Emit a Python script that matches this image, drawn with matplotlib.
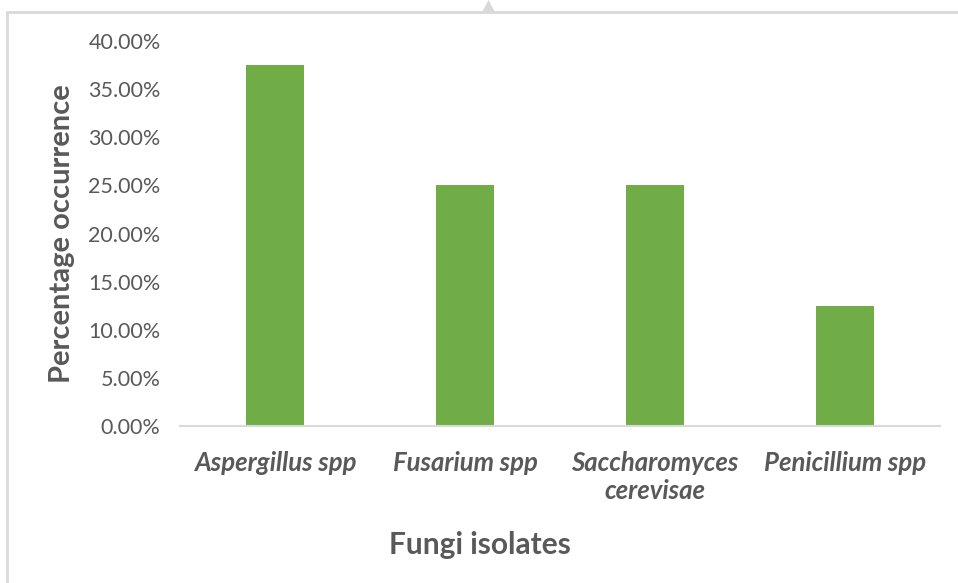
import matplotlib.pyplot as plt
from matplotlib.patches import Rectangle, Polygon
from matplotlib.ticker import FuncFormatter

fungi = ['Aspergillus spp', 'Fusarium spp', 'Saccharomyces\ncerevisae', 'Penicillium spp']
occurrence = [37.5, 25.0, 25.0, 12.5]   # percent
yticks = [0, 5, 10, 15, 20, 25, 30, 35, 40]

plt.rcParams['font.family'] = ['Lato', 'DejaVu Sans']
grey = '#595959'

fig = plt.figure(figsize=(9.58, 5.83), dpi=100)
W, H = 958, 583
ax = fig.add_axes([180 / W, 1 - 426 / H, 760 / W, 385 / H])

ax.bar(range(len(fungi)), occurrence, width=0.31, color='#70AD47')
ax.set_xlim(-0.5, len(fungi) - 0.5)
ax.set_ylim(0, 40)
ax.set_yticks(yticks)
ax.yaxis.set_major_formatter(FuncFormatter(lambda v, p: '%.2f%%' % v))
ax.tick_params(axis='y', length=0, pad=14, labelsize=15.5, labelcolor=grey)
ax.set_xticks(range(len(fungi)))
ax.set_xticklabels(fungi, fontsize=18.5, fontweight='bold', style='italic',
                   color=grey, linespacing=1.2, va='top')
ax.tick_params(axis='x', length=0, pad=18)

for s in ['top', 'right', 'left']:
    ax.spines[s].set_visible(False)
ax.spines['bottom'].set_color('#D9D9D9')
ax.spines['bottom'].set_linewidth(1.5)

fig.text(62 / W, 1 - 234 / H, 'Percentage occurrence', rotation=90, fontsize=21,
         fontweight='bold', color=grey, ha='center', va='center')
fig.text(480 / W, 1 - 545 / H, 'Fungi isolates', fontsize=21.5,
         fontweight='bold', color=grey, ha='center', va='center')

# chart frame and the little handle on top
fig.patches.append(Rectangle((7 / W, -0.1), 1.2, 1 - 12 / H + 0.1, transform=fig.transFigure,
                             fill=False, edgecolor='#D9D9D9', linewidth=2))
fig.patches.append(Polygon([(482 / W, 1 - 12 / H), (495 / W, 1 - 12 / H), (488.5 / W, 1.0)],
                           closed=True, transform=fig.transFigure,
                           facecolor='#D9D9D9', edgecolor='none'))

fig.savefig('out.png', dpi=100)
